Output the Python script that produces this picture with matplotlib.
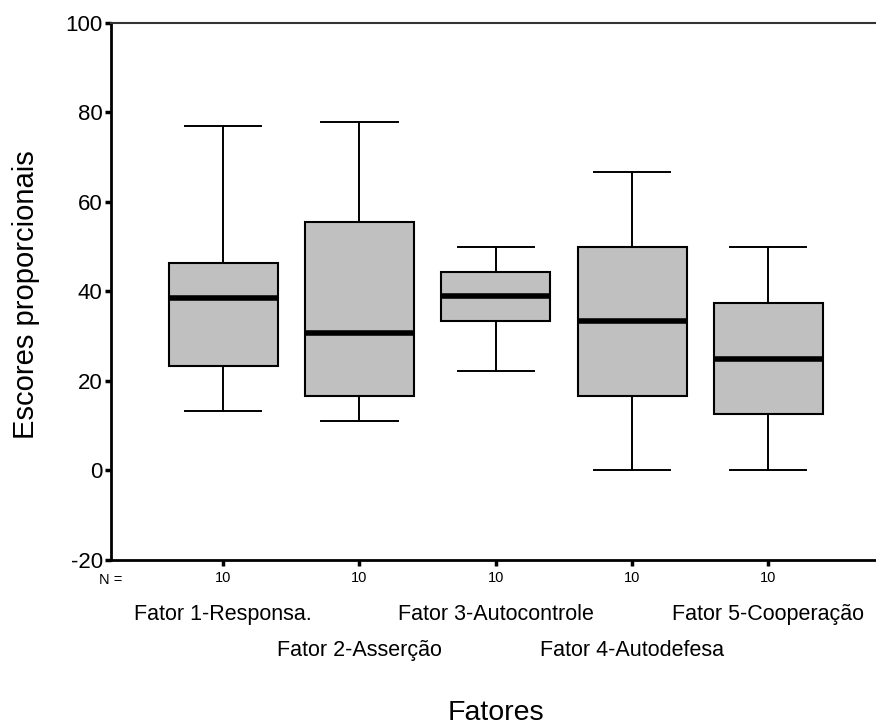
import matplotlib
matplotlib.use("Agg")
import matplotlib.pyplot as plt
import matplotlib.transforms as mtransforms

plt.rcParams['font.family'] = ['Liberation Sans', 'DejaVu Sans']
plt.rcParams['axes.unicode_minus'] = False

# ---- data ----
fatores = ["Fator 1-Responsa.", "Fator 2-Asserção", "Fator 3-Autocontrole",
           "Fator 4-Autodefesa", "Fator 5-Cooperação"]
n_casos = [10, 10, 10, 10, 10]
whisker_low = [13.3, 11.1, 22.2, 0.0, 0.0]
q1 = [23.3, 16.7, 33.3, 16.7, 12.5]
mediana = [38.5, 30.6, 38.9, 33.3, 25.0]
q3 = [46.4, 55.6, 44.4, 50.0, 37.5]
whisker_high = [76.9, 77.8, 50.0, 66.7, 50.0]

stats = []
for i in range(len(fatores)):
    stats.append({"label": fatores[i], "whislo": whisker_low[i], "q1": q1[i],
                  "med": mediana[i], "q3": q3[i], "whishi": whisker_high[i],
                  "fliers": []})

fig = plt.figure(figsize=(8.76, 7.28), dpi=100)
ax = fig.add_axes([0.1267, 0.2308, 0.8733, 0.7380])

pos = list(range(1, len(fatores) + 1))
ax.bxp(stats, positions=pos, widths=0.8, capwidths=0.56, patch_artist=True,
       showfliers=False,
       boxprops=dict(facecolor="#c0c0c0", edgecolor="black", linewidth=1.5),
       whiskerprops=dict(color="black", linewidth=1.4),
       capprops=dict(color="black", linewidth=1.4),
       medianprops=dict(color="black", linewidth=4.0, solid_capstyle="butt"))

ax.set_xlim(0.177, 5.79)
ax.set_ylim(-20, 100)
ax.set_yticks([-20, 0, 20, 40, 60, 80, 100])
ax.tick_params(axis="y", direction="out", length=4, width=2.5, labelsize=16, pad=2)
ax.set_xticks(pos)
ax.set_xticklabels([str(n) for n in n_casos])
ax.tick_params(axis="x", direction="out", length=4, width=2.5, labelsize=10.5, pad=4)

ax.spines["right"].set_visible(False)
ax.spines["left"].set_linewidth(2)
ax.spines["bottom"].set_linewidth(2)
ax.spines["top"].set_linewidth(1.5)
ax.spines["top"].set_color("#333333")

# "N =" to the left of the counts
trans = mtransforms.blended_transform_factory(ax.transData, fig.transFigure)
ax.text(0.177, 1 - 580 / 728, "N =", transform=trans, ha="center", va="center",
        fontsize=10.5)

# staggered category names
for i, nome in enumerate(fatores):
    yy = 1 - 620 / 728 if i % 2 == 0 else 1 - 656 / 728
    ax.text(pos[i], yy, nome, transform=trans, ha="center", va="baseline",
            fontsize=15.5)

fig.text(496 / 876, 1 - 720 / 728, "Fatores", ha="center", va="baseline", fontsize=20.5)
fig.text(26 / 876, 1 - 295 / 728, "Escores proporcionais", rotation=90, ha="center",
         va="center", fontsize=21)

fig.savefig("out.png", dpi=100)
